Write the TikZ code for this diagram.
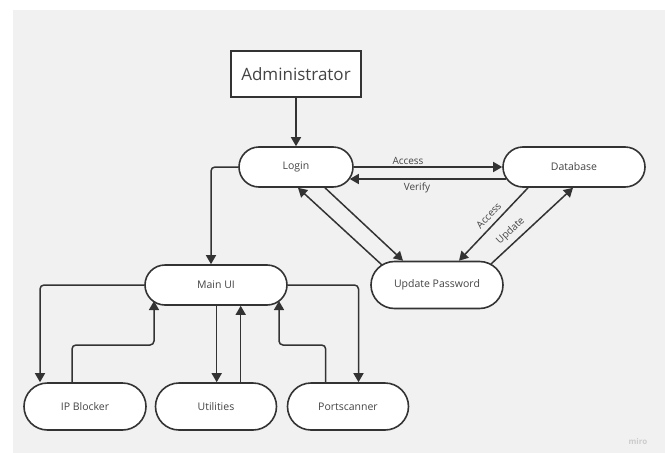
\documentclass[tikz,border=0pt]{standalone}
\usepackage{fontspec}
\setmainfont{Open Sans}
\usetikzlibrary{shapes.misc,arrows.meta,calc}
\definecolor{bgc}{HTML}{F1F1F1}
\definecolor{linec}{HTML}{333333}
\definecolor{textc}{HTML}{444444}
\begin{document}
\begin{tikzpicture}[x=1pt,y=-1pt,
  pill/.style={rounded rectangle, draw=linec, fill=white, line width=1.6pt,
    text=textc, font=\fontsize{10.5}{12}\selectfont, inner sep=0pt},
  adminbox/.style={rectangle, draw=linec, fill=white, line width=1.6pt,
    text=textc, font=\fontsize{17}{20}\selectfont, inner sep=0pt,
    minimum width=130pt, minimum height=46pt},
  conn/.style={draw=linec, line width=1.5pt, -{Triangle[length=9pt,width=10pt]}},
  lbl/.style={text=textc, font=\fontsize{10}{12}\selectfont, inner sep=1pt}]
\useasboundingbox (0,0) rectangle (665,453);
\fill[bgc] (13,10) rectangle (665,453);
\node[text=black!20, font=\fontsize{8}{9}\selectfont\bfseries] (miro) at (638,441) {miro};

\node[adminbox] (admin) at (296,74) {Administrator};
\node[pill, minimum width=114pt, minimum height=40pt] (login) at (296,167) {Login};
\node[pill, minimum width=142pt, minimum height=40pt] (db) at (574,167) {Database};
\node[pill, minimum width=132pt, minimum height=47pt] (up) at (437,285) {Update Password};
\node[pill, minimum width=142pt, minimum height=40pt] (mainui) at (216,285) {Main UI};
\node[pill, minimum width=122pt, minimum height=47pt] (ipb) at (85,406.5) {IP Blocker};
\node[pill, minimum width=121pt, minimum height=47pt] (util) at (216,406.5) {Utilities};
\node[pill, minimum width=121pt, minimum height=47pt] (port) at (348,406.5) {Portscanner};

% top part
\draw[conn] (admin.south) -- (login.north);
\draw[conn] (login.east) -- node[lbl, above=1pt, xshift=-20pt] {Access} (db.west);
\draw[conn] ($(db.west)+(4,12)$) -- node[lbl, below=2pt, xshift=-11pt] {Verify} ($(login.east)+(-4,12)$);
\draw[conn] ($(login.south)+(29,0)$) -- ($(up.north)+(-34,0)$);
\draw[conn] ($(up.center)+(-55,-20)$) -- ($(login.south)+(2,0)$);
\draw[conn] ($(db.south)+(-46,0)$) -- node[lbl, pos=0.47, rotate=47, anchor=south, inner ysep=5pt] {Access} ($(up.north)+(22,0)$);
\draw[conn] ($(up.center)+(54,-21)$) -- node[lbl, pos=0.33, rotate=43, anchor=south, inner ysep=5pt] {Update} ($(db.south)+(-1,0)$);

% login to main UI
\draw[conn, rounded corners=4pt] (login.west) -| ($(mainui.north)+(-5,0)$);

% main UI and tools
\coordinate (ipbin) at ($(ipb.north)+(-45,0)$);
\draw[conn, rounded corners=4pt] (mainui.west) -| (ipbin);
\draw[conn, rounded corners=4pt] ($(ipb.north)+(-13,0)$) |- (110,345) -| ($(mainui.center)+(-62,16)$);
\draw[conn] ($(mainui.south)+(0.7,0)$) -- ($(util.north)+(0.7,0)$);
\draw[conn] ($(util.north)+(24.7,0)$) -- ($(mainui.south)+(24.7,0)$);
\draw[conn, rounded corners=4pt] ($(port.north)+(-22.3,0)$) |- (300,345) -| ($(mainui.center)+(63,16)$);
\coordinate (portin) at ($(port.north)+(10.5,0)$);
\draw[conn, rounded corners=4pt] (mainui.east) -| (portin);
\end{tikzpicture}
\end{document}
